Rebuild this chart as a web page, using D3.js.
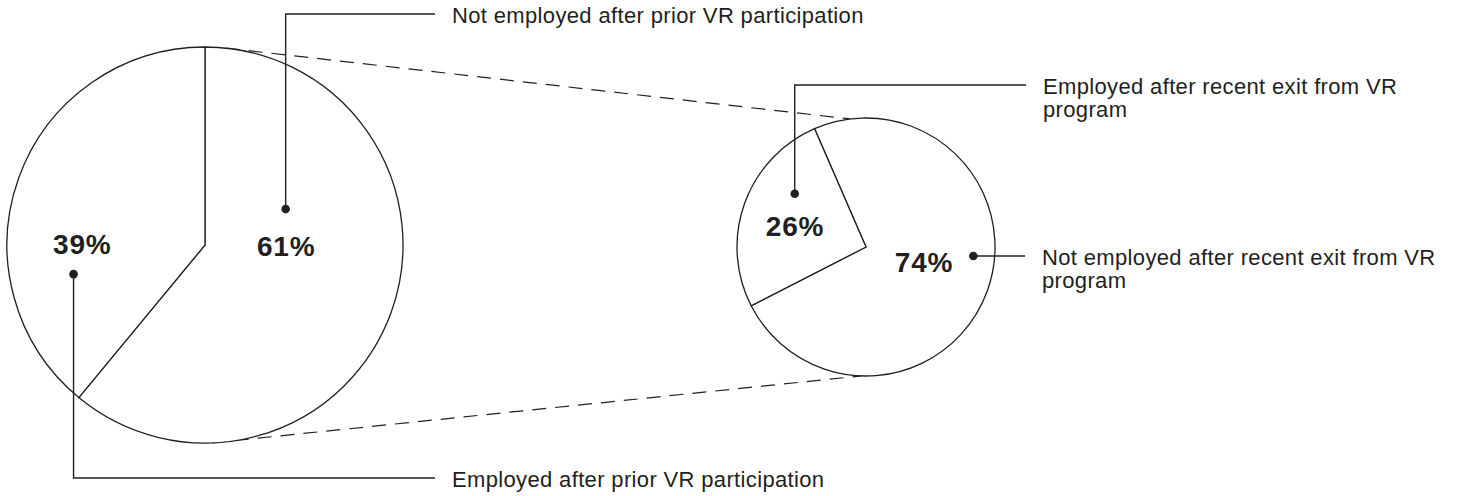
<!DOCTYPE html>
<html>
<head>
<meta charset="utf-8">
<script src="https://cdn.jsdelivr.net/npm/d3@7"></script>
<style>
  body { margin: 0; background: #fff; }
  text { font-family: "Liberation Sans", Arial, Helvetica, sans-serif; fill: #231f20; }
</style>
</head>
<body>
<script>
// Data
const priorLabels = ["Not employed after prior VR participation", "Employed after prior VR participation"]
const priorValues = [61, 39]
const recentLabels = ["Not employed after recent exit from VR program", "Employed after recent exit from VR program"]
const recentValues = [74, 26]

const width = 1457
const height = 496

// Layout of the two pies and where each label sits (angle in degrees, radius as fraction)
const pies = [
    {
        labels: priorLabels, values: priorValues,
        cx: 205, cy: 245, r: 198, start: 0,
        place: [
            { pct: [90.7, 0.41], dot: [66, 0.446], elbowY: 14, endX: 435 },
            { pct: [270.5, 0.62], dot: [257.5, 0.68], elbowY: 478, endX: 435 }
        ]
    },
    {
        labels: recentLabels, values: recentValues,
        cx: 866, cy: 247, r: 129, start: -23.5,
        place: [
            { pct: [104.5, 0.465], dot: [94.8, 0.835], elbowY: null, endX: 1025 },
            { pct: [286.5, 0.574], dot: [306.8, 0.69], elbowY: 85, endX: 1026 }
        ]
    }
]
// dashed connectors: [angle on big pie, angle on small pie]
const connectors = [[6, -7], [178, 182]]

const rad = d => d * Math.PI / 180

const svg = d3.select("body").append("svg")
    .attr("width", width)
    .attr("height", height)

function pt(p, ang, frac) {
    const [x, y] = d3.pointRadial(rad(ang), p.r * frac)
    return [p.cx + x, p.cy + y]
}

// Connectors first so the pies sit on top
connectors.forEach(([a1, a2]) => {
    const p1 = pt(pies[0], a1, 1)
    const p2 = pt(pies[1], a2, 1)
    svg.append("line")
        .attr("x1", p1[0]).attr("y1", p1[1])
        .attr("x2", p2[0]).attr("y2", p2[1])
        .attr("stroke", "#231f20")
        .attr("stroke-width", 1.2)
        .attr("stroke-dasharray", "14,9")
})

pies.forEach(p => {
    const arcs = d3.pie().sort(null).startAngle(rad(p.start)).endAngle(rad(p.start) + 2 * Math.PI)(p.values)
    const arc = d3.arc().innerRadius(0).outerRadius(p.r)

    const g = svg.append("g").attr("transform", `translate(${p.cx},${p.cy})`)
    g.selectAll("path")
        .data(arcs)
        .enter()
        .append("path")
        .attr("d", arc)
        .attr("fill", "#fff")
        .attr("stroke", "#231f20")
        .attr("stroke-width", 1.3)
        .attr("stroke-linejoin", "miter")

    arcs.forEach((a, i) => {
        const pl = p.place[i]
        const tp = pt(p, pl.pct[0], pl.pct[1])
        svg.append("text")
            .attr("x", tp[0]).attr("y", tp[1])
            .attr("dy", "0.36em")
            .attr("text-anchor", "middle")
            .style("font-size", "28px")
            .style("font-weight", "bold")
            .style("letter-spacing", "0.8px")
            .text(a.data + "%")

        const dp = pt(p, pl.dot[0], pl.dot[1])
        const lineY = pl.elbowY == null ? dp[1] : pl.elbowY
        const pts = pl.elbowY == null
            ? [dp, [pl.endX, lineY]]
            : [dp, [dp[0], lineY], [pl.endX, lineY]]
        svg.append("path")
            .attr("d", d3.line()(pts))
            .attr("fill", "none")
            .attr("stroke", "#231f20")
            .attr("stroke-width", 1.4)
        svg.append("circle")
            .attr("cx", dp[0]).attr("cy", dp[1])
            .attr("r", 4.3)
            .attr("fill", "#231f20")

        // label, wrapped to the space on the right
        const t = svg.append("text")
            .attr("x", pl.endX + 17)
            .attr("y", lineY)
            .attr("dy", "0.42em")
            .style("font-size", "22px")
            .style("letter-spacing", "0.35px")
        const words = p.labels[i].split(" ")
        let line = [], tspan = t.append("tspan").attr("x", pl.endX + 17)
        words.forEach(w => {
            line.push(w)
            tspan.text(line.join(" "))
            if (tspan.node().getComputedTextLength() > 412 && line.length > 1) {
                line.pop()
                tspan.text(line.join(" "))
                line = [w]
                tspan = t.append("tspan").attr("x", pl.endX + 17).attr("dy", "1.05em").text(w)
            }
        })
    })
})
</script>
</body>
</html>
